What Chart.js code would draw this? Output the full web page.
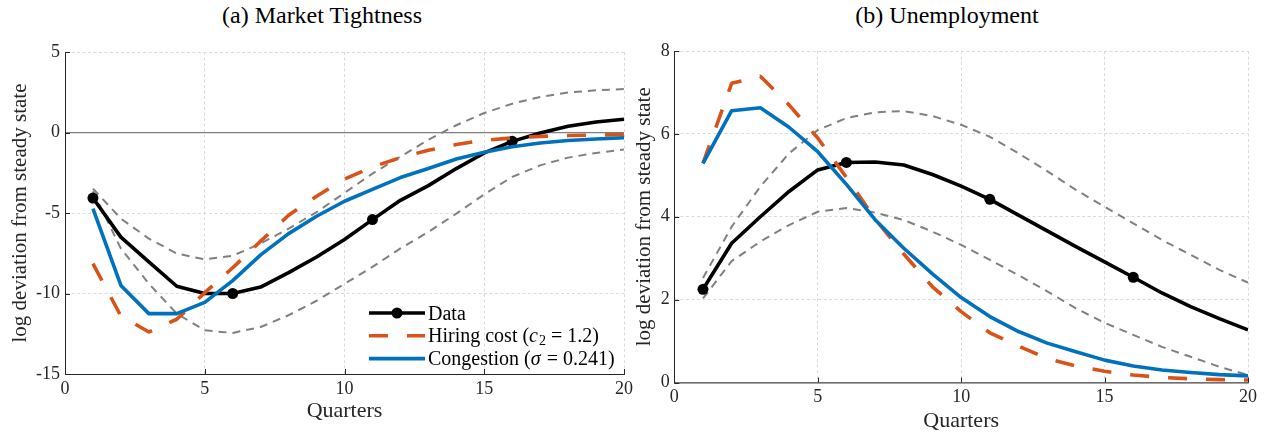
<!DOCTYPE html>
<html><head><meta charset="utf-8">
<script src="https://cdn.jsdelivr.net/npm/chart.js@4.4.1/dist/chart.umd.min.js"></script>
<style>
html,body{margin:0;padding:0;background:#fff;}
#wrap{position:relative;width:1265px;height:437px;overflow:hidden;background:#fff;font-family:'Liberation Serif',serif;}
.ttl{position:absolute;top:2px;font-size:24px;line-height:26px;color:#000;white-space:nowrap;transform:translateX(-50%);}
canvas{position:absolute;top:0;}
</style></head><body>
<div id="wrap">
<div class="ttl" style="left:322px">(a) Market Tightness</div>
<div class="ttl" style="left:947px">(b) Unemployment</div>
<canvas id="c1" width="640" height="437" style="left:0px"></canvas>
<canvas id="c2" width="645" height="437" style="left:620px"></canvas>
</div>
<script>
// ---------- data ----------
const quarters = [1,2,3,4,5,6,7,8,9,10,11,12,13,14,15,16,17,18,19,20];
const markerQuarters = [1, 6, 11, 16];
const seriesNames = ['Data', 'Hiring cost (c2 = 1.2)', 'Congestion (σ = 0.241)'];
const xTicks = [0, 5, 10, 15, 20];
const tightTicks = [-15, -10, -5, 0, 5];
const unempTicks = [0, 2, 4, 6, 8];

// (a) Market tightness
const tightData   = [-4.07,-6.5,-8.04,-9.55,-10.0,-10.0,-9.6,-8.7,-7.73,-6.65,-5.41,-4.21,-3.3,-2.24,-1.27,-0.55,-0.03,0.39,0.65,0.82];
const tightHiring = [-8.15,-11.4,-12.39,-11.6,-9.95,-8.4,-6.75,-5.14,-3.96,-2.9,-2.14,-1.56,-1.1,-0.75,-0.48,-0.34,-0.24,-0.19,-0.16,-0.12];
const tightCong   = [-4.73,-9.5,-11.25,-11.25,-10.55,-9.2,-7.6,-6.28,-5.2,-4.27,-3.53,-2.8,-2.24,-1.65,-1.22,-0.88,-0.65,-0.5,-0.4,-0.33];
const tightUpper  = [-3.49,-5.35,-6.59,-7.52,-7.88,-7.65,-6.9,-5.97,-4.95,-3.75,-2.55,-1.5,-0.45,0.45,1.21,1.79,2.21,2.48,2.62,2.7];
const tightLower  = [-3.65,-7.21,-9.39,-11.25,-12.29,-12.45,-12.08,-11.35,-10.45,-9.4,-8.35,-7.2,-6.18,-5.04,-3.84,-2.76,-2.04,-1.56,-1.27,-1.06];

// (b) Unemployment
const unempData   = [2.25,3.36,4.0,4.61,5.13,5.31,5.32,5.25,5.02,4.74,4.42,4.04,3.66,3.28,2.91,2.54,2.16,1.83,1.54,1.27];
const unempHiring = [5.29,7.22,7.39,6.7,5.9,4.95,3.95,3.1,2.31,1.71,1.2,0.88,0.58,0.4,0.27,0.18,0.12,0.09,0.07,0.06];
const unempCong   = [5.29,6.56,6.63,6.16,5.57,4.78,3.93,3.24,2.62,2.05,1.59,1.23,0.95,0.74,0.54,0.4,0.3,0.24,0.19,0.16];
const unempUpper  = [2.52,3.76,4.73,5.53,6.09,6.38,6.52,6.55,6.43,6.22,5.93,5.53,5.1,4.65,4.24,3.84,3.44,3.08,2.72,2.41];
const unempLower  = [2.03,2.93,3.4,3.8,4.12,4.21,4.1,3.92,3.64,3.32,2.96,2.59,2.2,1.79,1.44,1.15,0.86,0.62,0.38,0.18];

// legend rich text (italic math symbols, subscript)
const legendParts = [
  [{t:'Data'}],
  [{t:'Hiring cost ('},{t:'c',i:true},{t:'2',sub:true},{t:' = 1.2)'}],
  [{t:'Congestion ('},{t:'σ',i:true},{t:' = 0.241)'}]
];

// ---------- styling ----------
const FONT = "'Liberation Serif', 'Times New Roman', serif";
const AX = '#262626';
const GRID = '#dadada';
const C_DATA = '#000000', C_HIRE = '#D95319', C_CONG = '#0072BD', C_BAND = '#808080';

const pts = arr => quarters.map((q, i) => ({x: q, y: arr[i]}));

function buildDatasets(data, hiring, cong, upper, lower) {
  return [
    {label: seriesNames[2], data: pts(cong), borderColor: C_CONG, borderWidth: 3.6, pointRadius: 0},
    {label: seriesNames[1], data: pts(hiring), borderColor: C_HIRE, borderWidth: 3.6, borderDash: [19, 19], pointRadius: 0},
    {label: seriesNames[0], data: pts(data), borderColor: C_DATA, borderWidth: 3.6,
      pointRadius: c => markerQuarters.includes(quarters[c.dataIndex]) ? 5.5 : 0,
      pointBackgroundColor: C_DATA, pointBorderWidth: 0, pointHoverRadius: 0},
    {label: 'upper', data: pts(upper), borderColor: C_BAND, borderWidth: 2, borderDash: [8, 6], pointRadius: 0},
    {label: 'lower', data: pts(lower), borderColor: C_BAND, borderWidth: 2, borderDash: [8, 6], pointRadius: 0}
  ].map(d => Object.assign({tension: 0, fill: false, borderCapStyle: 'butt', borderJoinStyle: 'round'}, d));
}

const innerTicks = {
  id: 'innerTicks',
  afterDatasetsDraw(chart) {
    const {ctx, chartArea: a, scales: {x, y}} = chart;
    ctx.save();
    ctx.strokeStyle = AX; ctx.lineWidth = 1; ctx.setLineDash([]);
    ctx.beginPath();
    x.ticks.forEach(t => { const px = Math.round(x.getPixelForValue(t.value)) + 0.5; ctx.moveTo(px, a.bottom); ctx.lineTo(px, a.bottom - 5); });
    y.ticks.forEach(t => { const py = Math.round(y.getPixelForValue(t.value)) + 0.5; ctx.moveTo(a.left, py); ctx.lineTo(a.left + 5, py); });
    ctx.stroke();
    ctx.restore();
  }
};

const insideLegend = {
  id: 'insideLegend',
  afterDraw(chart, args, opts) {
    if (!opts || !opts.display) return;
    const ctx = chart.ctx, a = chart.chartArea;
    const x0 = a.right - 255, sw = 56, tx = x0 + 59;
    seriesNames.forEach((name, i) => {
      const ds = chart.data.datasets.find(d => d.label === name);
      const y = a.bottom - 61 + i * 22.8;
      ctx.save();
      ctx.strokeStyle = ds.borderColor; ctx.lineWidth = ds.borderWidth;
      ctx.setLineDash(ds.borderDash || []); ctx.lineCap = 'butt';
      ctx.beginPath(); ctx.moveTo(x0, y); ctx.lineTo(x0 + sw, y); ctx.stroke();
      if (i === 0) {
        ctx.setLineDash([]); ctx.fillStyle = C_DATA;
        ctx.beginPath(); ctx.arc(x0 + sw / 2, y, 5.5, 0, Math.PI * 2); ctx.fill();
      }
      let x = tx;
      ctx.fillStyle = '#000'; ctx.textBaseline = 'alphabetic';
      legendParts[i].forEach(p => {
        ctx.font = (p.i ? 'italic ' : '') + (p.sub ? '14px ' : '20px ') + FONT;
        ctx.fillText(p.t, x, y + 6.5 + (p.sub ? 3 : 0));
        x += ctx.measureText(p.t).width + (p.i ? 1 : 0);
      });
      ctx.restore();
    });
  }
};

function makeChart(id, o) {
  return new Chart(document.getElementById(id), {
    type: 'line',
    data: {datasets: buildDatasets(...o.series)},
    plugins: [innerTicks, insideLegend],
    options: {
      responsive: false, animation: false, devicePixelRatio: 1,
      layout: {padding: o.padding},
      plugins: {legend: {display: false}, tooltip: {enabled: false}, insideLegend: {display: o.legend}},
      scales: {
        x: {
          type: 'linear', min: xTicks[0], max: xTicks[xTicks.length - 1],
          afterBuildTicks: s => { s.ticks = xTicks.map(v => ({value: v})); },
          ticks: {padding: 4, color: AX, font: {family: FONT, size: 18}, maxRotation: 0},
          grid: {color: GRID, lineWidth: 1, drawTicks: false},
          border: {display: true, color: o.xBorderColor, width: o.xBorderWidth, dash: [3, 2.5]},
          title: {display: true, text: 'Quarters', color: AX, font: {family: FONT, size: 22}, padding: {top: 0, bottom: o.xTitlePad}},
          afterFit: s => { s.height = o.xHeight; }
        },
        y: {
          type: 'linear', min: o.yTicks[0], max: o.yTicks[o.yTicks.length - 1],
          afterBuildTicks: s => { s.ticks = o.yTicks.map(v => ({value: v})); },
          ticks: {padding: o.yTickPad, color: AX, font: {family: FONT, size: 18}},
          grid: {color: c => (c.tick && c.tick.value === 0) ? o.zeroColor : GRID, lineWidth: c => (c.tick && c.tick.value === 0) ? 1.2 : 1, drawTicks: false},
          border: {display: true, color: AX, width: 1, dash: c => (c.tick && c.tick.value === 0) ? [] : [3, 2.5]},
          title: {display: true, text: 'log deviation from steady state', color: AX, font: {family: FONT, size: 21}, padding: {top: o.yTitlePad, bottom: 0}},
          afterFit: s => { s.width = o.yWidth; }
        }
      }
    }
  });
}

makeChart('c1', {
  series: [tightData, tightHiring, tightCong, tightUpper, tightLower],
  yTicks: tightTicks, legend: true,
  padding: {top: 52, right: 16, bottom: 0, left: 0},
  yWidth: 65, yTickPad: 5, yTitlePad: 7.5,
  xHeight: 63, xTitlePad: 13, xBorderColor: AX, xBorderWidth: 1,
  zeroColor: '#7f7f7f'
});
makeChart('c2', {
  series: [unempData, unempHiring, unempCong, unempUpper, unempLower],
  yTicks: unempTicks, legend: false,
  padding: {top: 51, right: 17, bottom: 0, left: 0},
  yWidth: 54.3, yTickPad: 4.5, yTitlePad: 12,
  xHeight: 54.5, xTitlePad: 3, xBorderColor: '#6e6e6e', xBorderWidth: 1.5,
  zeroColor: '#6e6e6e'
});
</script>
</body></html>
